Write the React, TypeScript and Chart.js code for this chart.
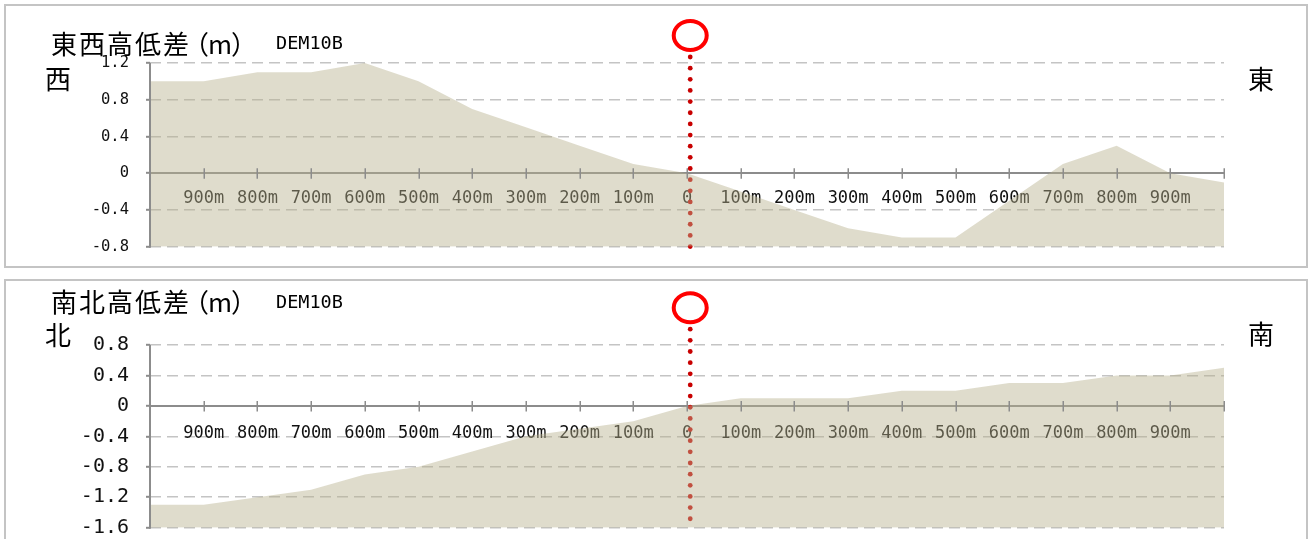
import React, { useEffect, useRef } from "react";
import { Chart, registerables } from "chart.js";

Chart.register(...registerables);

// ---- data ----
const DISTANCES = [-1000, -900, -800, -700, -600, -500, -400, -300, -200, -100, 0, 100, 200, 300, 400, 500, 600, 700, 800, 900, 1000];
const DISTANCE_LABELS = ["", "900m", "800m", "700m", "600m", "500m", "400m", "300m", "200m", "100m", "0", "100m", "200m", "300m", "400m", "500m", "600m", "700m", "800m", "900m", ""];
const EW_ELEVATION = [1.0, 1.0, 1.1, 1.1, 1.2, 1.0, 0.7, 0.5, 0.3, 0.1, 0.0, -0.2, -0.4, -0.6, -0.7, -0.7, -0.3, 0.1, 0.3, 0.0, -0.1];
const NS_ELEVATION = [-1.3, -1.3, -1.2, -1.1, -0.9, -0.8, -0.6, -0.4, -0.3, -0.2, 0.0, 0.1, 0.1, 0.1, 0.2, 0.2, 0.3, 0.3, 0.4, 0.4, 0.5];
const EW_Y_TICKS = [-0.8, -0.4, 0, 0.4, 0.8, 1.2];
const EW_Y_LABELS = ["-0.8", "-0.4", "0", "0.4", "0.8", "1.2"];
const NS_Y_TICKS = [-1.6, -1.2, -0.8, -0.4, 0, 0.4, 0.8];
const NS_Y_LABELS = ["-1.6", "-1.2", "-0.8", "-0.4", "0", "0.4", "0.8"];
const MARKER_DISTANCE = 6;

const EW_TITLE = "東西高低差";
const NS_TITLE = "南北高低差";
const UNIT = "（m）";
const SOURCE = "DEM10B";
const WEST = "西";
const EAST = "東";
const NORTH = "北";
const SOUTH = "南";

const MONO = "'DejaVu Sans Mono', monospace";
const CJK = "'Noto Sans CJK JP', 'Noto Sans', sans-serif";

const decorPlugin = {
  id: "profileDecor",
  beforeDatasetsDraw(chart: any, _args: any, opts: any) {
    const ctx = chart.ctx;
    const x = chart.scales.x.getPixelForValue(opts.markerValue);
    ctx.save();
    ctx.fillStyle = "#c80000";
    for (let i = 0; i < opts.dotCount; i++) {
      const y = opts.circleY + opts.dotStart + i * opts.dotGap;
      ctx.beginPath();
      ctx.arc(x, y, 2.4, 0, Math.PI * 2);
      ctx.fill();
    }
    ctx.restore();
  },
  afterDatasetsDraw(chart: any) {
    const ctx = chart.ctx;
    const area = chart.chartArea;
    ctx.save();
    ctx.strokeStyle = "#8c8c8c";
    ctx.lineWidth = 2;
    ctx.beginPath();
    ctx.moveTo(area.left, area.top);
    ctx.lineTo(area.left, area.bottom + 1);
    ctx.stroke();
    const xs = chart.scales.x;
    const y0 = chart.scales.y.getPixelForValue(0);
    ctx.lineWidth = 1.5;
    xs.ticks.forEach((t: any) => {
      const px = Math.round(xs.getPixelForValue(t.value)) + 0.25;
      ctx.beginPath();
      ctx.moveTo(px, y0 - 5);
      ctx.lineTo(px, y0 + 5.5);
      ctx.stroke();
    });
    ctx.restore();
  },
  afterDraw(chart: any, _args: any, opts: any) {
    const ctx = chart.ctx;
    const x = chart.scales.x.getPixelForValue(opts.markerValue);
    ctx.save();
    ctx.strokeStyle = "#ff0000";
    ctx.lineWidth = 4;
    ctx.beginPath();
    ctx.ellipse(x, opts.circleY, 16.5, 14.5, 0, 0, Math.PI * 2);
    ctx.stroke();
    ctx.restore();
  },
};

type ChartProps = {
  top: number;
  height: number;
  values: number[];
  yTicks: number[];
  yLabels: string[];
  yFont: number;
  xPadding: number;
  layoutPadding: { left: number; right: number; top: number; bottom: number };
  circleY: number;
};

function ProfileChart(p: ChartProps) {
  const ref = useRef<HTMLCanvasElement>(null);
  useEffect(() => {
    if (!ref.current) return;
    const points = DISTANCES.map((d, i) => ({ x: d, y: p.values[i] }));
    const chart = new Chart(ref.current, {
      type: "line",
      data: {
        datasets: [
          {
            data: points,
            fill: "start",
            backgroundColor: "rgba(184,178,142,0.45)",
            borderWidth: 0,
            borderColor: "rgba(0,0,0,0)",
            pointRadius: 0,
            tension: 0,
          },
        ],
      },
      plugins: [decorPlugin as any],
      options: {
        animation: false,
        responsive: false,
        devicePixelRatio: 1,
        events: [],
        layout: { padding: p.layoutPadding },
        plugins: {
          legend: { display: false },
          tooltip: { enabled: false },
          title: { display: false },
          profileDecor: {
            markerValue: MARKER_DISTANCE,
            circleY: p.circleY,
            dotStart: 21.5,
            dotGap: 11.15,
            dotCount: 18,
          },
        } as any,
        scales: {
          x: {
            type: "linear",
            position: { y: 0 } as any,
            min: DISTANCES[0],
            max: DISTANCES[DISTANCES.length - 1],
            z: 1,
            grid: { display: false, drawTicks: false },
            border: { display: true, color: "#8c8c8c", width: 2 },
            afterBuildTicks: (scale: any) => {
              scale.ticks = DISTANCES.map((v) => ({ value: v }));
            },
            ticks: {
              autoSkip: false,
              maxRotation: 0,
              minRotation: 0,
              padding: p.xPadding,
              color: "#111111",
              font: { family: MONO, size: 17 },
              callback: (value: any) => {
                const i = DISTANCES.indexOf(Number(value));
                return i >= 0 ? DISTANCE_LABELS[i] : "";
              },
            },
          },
          y: {
            type: "linear",
            min: p.yTicks[0],
            max: p.yTicks[p.yTicks.length - 1],
            afterBuildTicks: (scale: any) => {
              scale.ticks = p.yTicks.map((v) => ({ value: v }));
            },
            afterFit: (scale: any) => {
              scale.width = 150;
            },
            grid: {
              color: "#c4c4c4",
              lineWidth: 1.6,
              tickLength: 4,
              tickColor: "#8c8c8c",
              tickWidth: 2,
              tickBorderDash: [],
            } as any,
            border: { display: false, dash: [11, 6] },
            ticks: {
              padding: 17,
              color: "#111111",
              font: { family: MONO, size: p.yFont },
              callback: (value: any) => {
                const i = p.yTicks.findIndex((t) => Math.abs(t - Number(value)) < 1e-6);
                return i >= 0 ? p.yLabels[i] : "";
              },
            },
          },
        },
      },
    });
    return () => chart.destroy();
  }, []);
  return (
    <canvas
      ref={ref}
      width={1311}
      height={p.height}
      style={{ position: "absolute", left: 0, top: p.top, width: 1311, height: p.height }}
    />
  );
}

function Label(props: { text: string; left: number; top: number; size: number; family: string }) {
  return (
    <div
      style={{
        position: "absolute",
        left: props.left,
        top: props.top,
        fontSize: props.size,
        lineHeight: `${props.size}px`,
        height: props.size,
        fontFamily: props.family,
        color: "#000",
        whiteSpace: "nowrap",
      }}
    >
      {props.text}
    </div>
  );
}

function Title(props: { text: string; left: number; top: number }) {
  return (
    <div
      style={{
        position: "absolute",
        left: props.left,
        top: props.top,
        fontSize: 26,
        lineHeight: "26px",
        height: 26,
        fontFamily: CJK,
        color: "#000",
        whiteSpace: "nowrap",
      }}
    >
      <span style={{ letterSpacing: 2 }}>{props.text}</span>
      <span style={{ letterSpacing: -1, marginLeft: -8 }}>{UNIT}</span>
    </div>
  );
}

export default function App() {
  return (
    <div style={{ position: "fixed", left: 0, top: 0, width: 1311, height: 539, overflow: "hidden", background: "#fff" }}>
      <div style={{ position: "absolute", left: 4, top: 4, width: 1304, height: 264, border: "2px solid #c4c4c4", boxSizing: "border-box" }} />
      <div style={{ position: "absolute", left: 4, top: 279, width: 1304, height: 280, border: "2px solid #c4c4c4", boxSizing: "border-box" }} />
      <ProfileChart
        top={0}
        height={290}
        values={EW_ELEVATION}
        yTicks={EW_Y_TICKS}
        yLabels={EW_Y_LABELS}
        yFont={15.5}
        xPadding={15}
        layoutPadding={{ left: 0, right: 87, top: 63, bottom: 43.3 }}
        circleY={35.5}
      />
      <ProfileChart
        top={270}
        height={310}
        values={NS_ELEVATION}
        yTicks={NS_Y_TICKS}
        yLabels={NS_Y_LABELS}
        yFont={20}
        xPadding={17}
        layoutPadding={{ left: 0, right: 87, top: 75, bottom: 52.3 }}
        circleY={37.7}
      />
      <Title text={EW_TITLE} left={51} top={29.5} />
      <Label text={SOURCE} left={276} top={33.5} size={18.5} family={MONO} />
      <Label text={WEST} left={45} top={64.5} size={26} family={CJK} />
      <Label text={EAST} left={1248} top={65} size={26} family={CJK} />
      <Title text={NS_TITLE} left={51} top={288} />
      <Label text={SOURCE} left={276} top={293} size={18.5} family={MONO} />
      <Label text={NORTH} left={45} top={321} size={26} family={CJK} />
      <Label text={SOUTH} left={1248} top={320} size={26} family={CJK} />
    </div>
  );
}
